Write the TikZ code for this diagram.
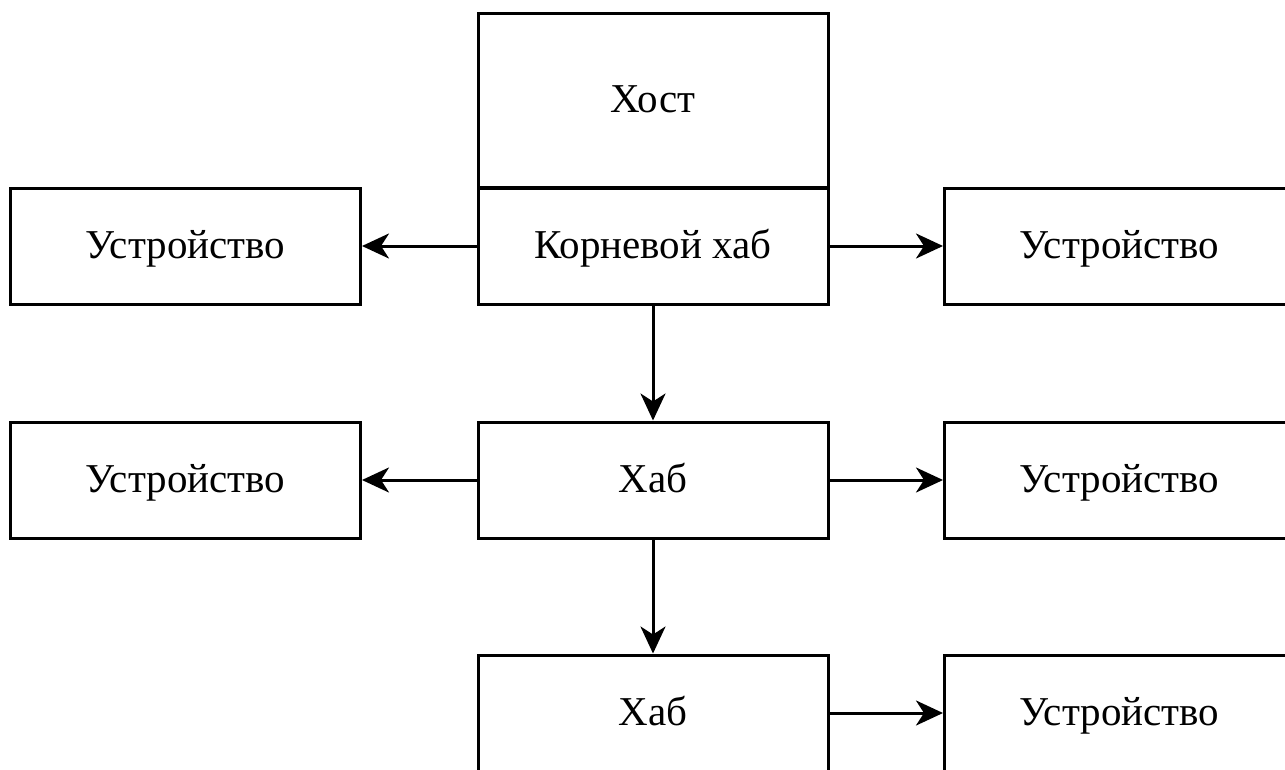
\documentclass[tikz,border=0pt]{standalone}
\usepackage{fontspec}
\setmainfont{Liberation Serif}
\usetikzlibrary{arrows.meta}
\tikzset{
  blk/.style={draw=black, line width=3pt, fill=white, minimum width=350pt,
    inner sep=0pt, text height=29pt, text depth=5pt,
    font=\fontsize{41}{46}\selectfont},
  rowbox/.style={blk, minimum height=116pt},
  link/.style={line width=3pt, -{Stealth[length=27pt, width=25pt, inset=8pt]}},
}
\begin{document}
\begin{tikzpicture}[x=1pt, y=-1pt]
  \useasboundingbox (0,0) rectangle (1285,769);
  \clip (0,0) rectangle (1285,769);
  % host stacked on top of the root hub
  \node[blk, minimum height=174pt] (host) at (653,100) {Хост};
  \node[rowbox] (root) at (653,246) {Корневой хаб};
  \node[rowbox] (dl1) at (185.5,246) {Устройство};
  \node[rowbox] (dr1) at (1119.5,246) {Устройство};
  % second level
  \node[rowbox] (hub2) at (653,480) {Хаб};
  \node[rowbox] (dl2) at (185.5,480) {Устройство};
  \node[rowbox] (dr2) at (1119.5,480) {Устройство};
  % third level
  \node[rowbox] (hub3) at (653,713) {Хаб};
  \node[rowbox] (dr3) at (1119.5,713) {Устройство};
  % connections
  \draw[link] (root.west) -- (dl1.east);
  \draw[link] (root.east) -- (dr1.west);
  \draw[link] (root.south) -- (hub2.north);
  \draw[link] (hub2.west) -- (dl2.east);
  \draw[link] (hub2.east) -- (dr2.west);
  \draw[link] (hub2.south) -- (hub3.north);
  \draw[link] (hub3.east) -- (dr3.west);
\end{tikzpicture}
\end{document}
